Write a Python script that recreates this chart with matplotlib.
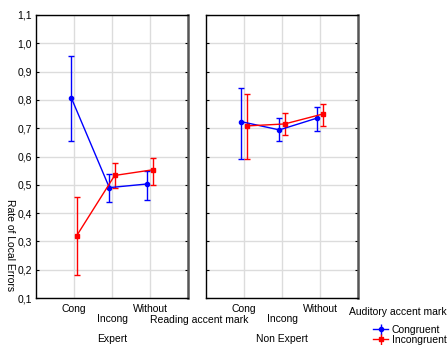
import matplotlib.pyplot as plt
from matplotlib.ticker import FuncFormatter

plt.rcParams['font.family'] = ['Liberation Sans', 'DejaVu Sans']
plt.rcParams['font.size'] = 7.5

# reading accent mark conditions
conds = ["Cong", "Incong", "Without"]
groups = ["Expert", "Non Expert"]

# auditory congruent (blue): means, lower, upper
cong_mean = [[0.807, 0.490, 0.503], [0.723, 0.694, 0.736]]
cong_low = [[0.655, 0.440, 0.448], [0.590, 0.654, 0.690]]
cong_high = [[0.955, 0.538, 0.550], [0.841, 0.735, 0.774]]

# auditory incongruent (red)
inc_mean = [[0.320, 0.533, 0.553], [0.708, 0.715, 0.750]]
inc_low = [[0.180, 0.487, 0.500], [0.590, 0.676, 0.707]]
inc_high = [[0.457, 0.577, 0.596], [0.821, 0.753, 0.787]]

fig = plt.figure(figsize=(4.48, 3.45), dpi=100)
W, H = 448.0, 345.0
axes = [fig.add_axes([36 / W, 1 - 298 / H, 152 / W, 283 / H]),
        fig.add_axes([206 / W, 1 - 298 / H, 152 / W, 283 / H])]

xs = [1, 2, 3]
off = 0.07
for k, ax in enumerate(axes):
    xb = [x - off for x in xs]
    xr = [x + off for x in xs]
    m = cong_mean[k]
    ax.errorbar(xb, m,
                yerr=[[a - b for a, b in zip(m, cong_low[k])],
                      [b - a for a, b in zip(m, cong_high[k])]],
                color="blue", marker="o", ms=3, lw=1, capsize=2.5,
                elinewidth=1, zorder=3)
    m = inc_mean[k]
    ax.errorbar(xr, m,
                yerr=[[a - b for a, b in zip(m, inc_low[k])],
                      [b - a for a, b in zip(m, inc_high[k])]],
                color="red", marker="s", ms=3, lw=1, capsize=2.5,
                elinewidth=1, zorder=3)
    ax.set_xlim(0, 4)
    ax.set_ylim(0.1, 1.1)
    ax.set_yticks([0.1 * i for i in range(1, 12)])
    ax.set_xticks(xs)
    ax.set_xticklabels(["", "", ""])
    ax.grid(True, color="#dcdcdc", lw=1, zorder=0)
    ax.set_axisbelow(True)
    ax.tick_params(axis="y", direction="in", length=2, right=True, width=0.8)
    ax.tick_params(axis="x", length=0)
    for s in ["left", "top", "bottom"]:
        ax.spines[s].set_color("black")
        ax.spines[s].set_linewidth(1)
    ax.spines["right"].set_color("#555555")
    ax.spines["right"].set_linewidth(1.8)
    # staggered category labels
    for i, c in enumerate(conds):
        ax.text(xs[i], 0.1 - (0.038 if i != 1 else 0.074), c, ha="center",
                va="center", transform=ax.transData, clip_on=False)
    ax.text(0.5, -0.145, groups[k], ha="center", va="center",
            transform=ax.transAxes)

axes[0].yaxis.set_major_formatter(FuncFormatter(lambda v, p: ("%.1f" % v).replace(".", ",")))
axes[1].set_yticklabels([])
axes[0].tick_params(axis="y", labelsize=7.5, pad=3)

fig.text(10 / W, 1 - 245 / H, "Rate of Local Errors", rotation=-90,
         ha="center", va="center")
fig.text(199 / W, 1 - 320 / H, "Reading accent mark", ha="center",
         va="center")
fig.text(398 / W, 1 - 312 / H, "Auditory accent mark", ha="center",
         va="center")

h1 = axes[1].errorbar([], [], yerr=[], color="blue", marker="o", ms=3, lw=1, capsize=2.5)
h2 = axes[1].errorbar([], [], yerr=[], color="red", marker="s", ms=3, lw=1, capsize=2.5)
fig.legend([h1, h2], ["Congruent", "Incongruent"], loc="center left",
           bbox_to_anchor=(368 / W, 1 - 335 / H), frameon=False,
           handlelength=1.4, handletextpad=0.4, labelspacing=0.0,
           borderpad=0)

fig.savefig("out.png", dpi=100)
